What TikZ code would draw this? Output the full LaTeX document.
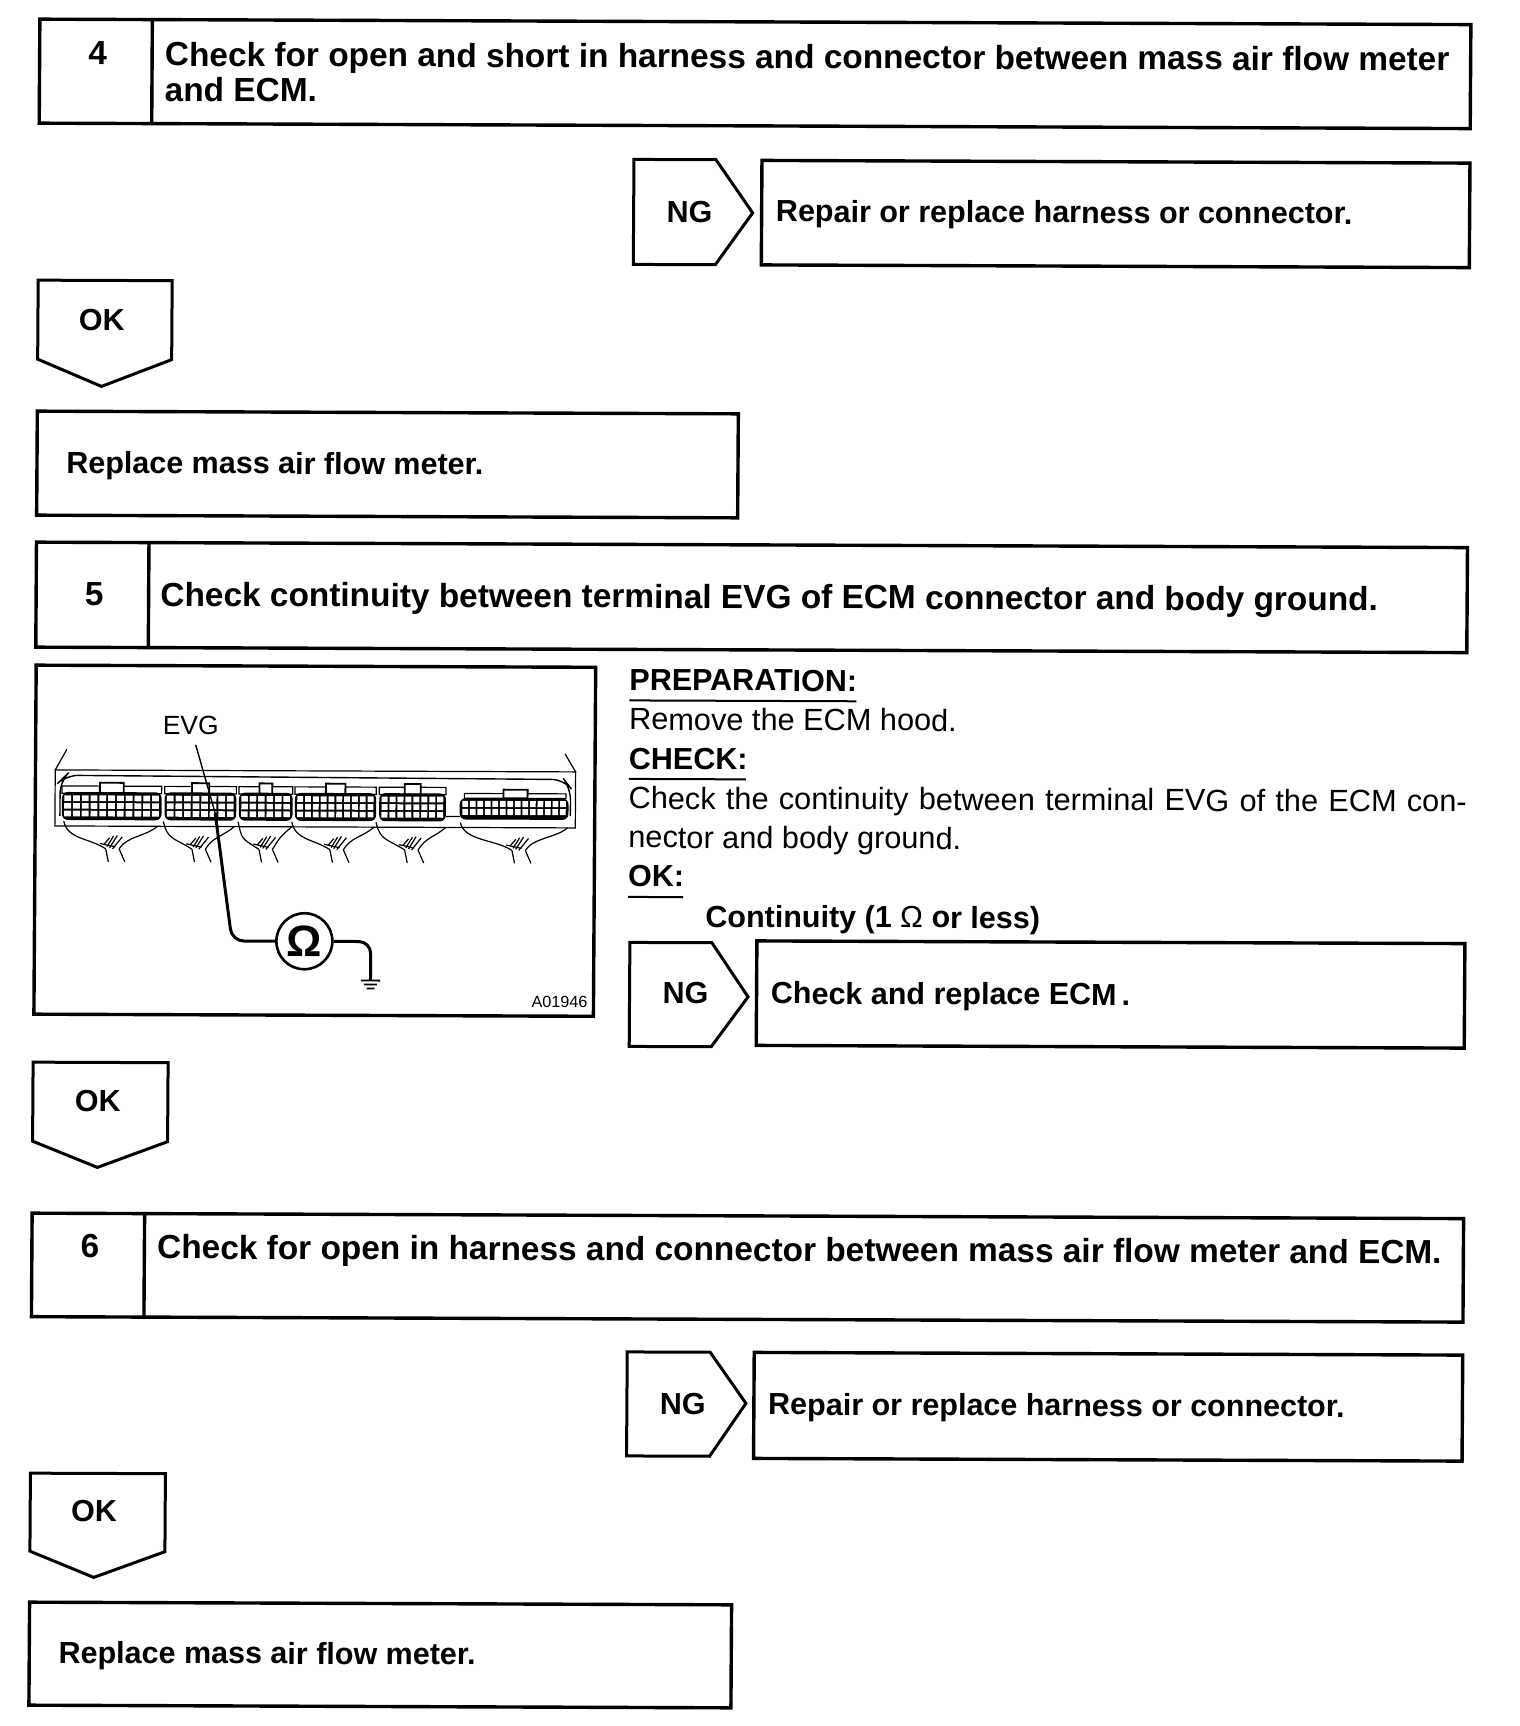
\documentclass[tikz,border=0pt]{standalone}
\usepackage{fontspec}
\setmainfont{Liberation Sans}
\tikzset{
  chkbox/.style={line width=1.7pt},
  tagline/.style={line width=1.5pt, line join=miter},
  headtxt/.style={font=\fontsize{16.7}{17.6}\selectfont\bfseries, inner sep=0pt},
  boldtxt/.style={font=\fontsize{15.25}{17}\selectfont\bfseries, inner sep=0pt},
  plaintxt/.style={font=\fontsize{15.35}{17}\selectfont, inner sep=0pt},
  headrule/.style={line width=1pt},
  wire/.style={line width=0.6pt},
  leadline/.style={line width=1.5pt, rounded corners=6pt}
}
\begin{document}
\begin{tikzpicture}[x=0.5pt, y=-0.5pt]
    \useasboundingbox (0,0) rectangle (1520,1726);
    \begin{scope}[cm={1,-0.0038,0.0065,1,(0,0)}, transform shape]
    % Step 4
    \draw[chkbox] (40,19) rectangle (1471,123);
    \draw[chkbox] (152.5,19) -- (152.5,123);
    \node[headtxt] (num4) at (98,53) {4};
    \node[headtxt, anchor=west, align=left] (txt4) at (165,71) {Check for open and short in harness and connector between mass air flow meter\\and ECM.};

    \draw[tagline] (635,157) -- (717,157) -- (754,210) -- (717,262) -- (635,262) -- cycle;
    \node[boldtxt] (ng4) at (691,209) {NG};
    \draw[chkbox] (763,157.5) rectangle (1471,262);
    \node[boldtxt, anchor=west] (rep4) at (777,211) {Repair or replace harness or connector.};

    \draw[tagline] (40,280) -- (174,280) -- (174,359) -- (104,386) -- (40,359) -- cycle;
    \node[boldtxt] (ok4) at (104,320) {OK};
    \draw[chkbox] (40,411) rectangle (741,515);
    \node[boldtxt, anchor=west] (maf4) at (69,465) {Replace mass air flow meter.};

    % Step 5
    \draw[chkbox] (40,542) rectangle (1471,647);
    \draw[chkbox] (152.5,542) -- (152.5,647);
    \node[headtxt] (num5) at (98,593.5) {5};
    \node[headtxt, anchor=west] (txt5) at (164,597) {Check continuity between terminal EVG of ECM connector and body ground.};

    % Picture of the ECM connectors
    \draw[chkbox] (40.5,665) rectangle (600,1014);
    \begin{scope}[shift={(25,649)}, x=0.1916pt, y=-0.1667pt]
      \draw[wire] (92,362) rectangle (1450,530);
      \draw[wire] (122,300) -- (92,362);
      \draw[wire] (1422,308) -- (1450,362);
      \draw[line width=0.7pt, rounded corners=6pt] (105,500) -- (105,395) -- (120,378) -- (1420,385) -- (1437,410) -- (1437,495);
      \draw[wire] (1112,497) -- (1150,497);
      % blocks with three rows of pins
      \foreach \xa/\xb/\cols in {110/370/11, 378/565/8, 572/712/6, 718/930/10, 938/1112/8}{
        \draw[wire] (\xa,410) rectangle (\xb,432);
        \draw[line width=0.9pt, fill=white] ({\xa+(\xb-\xa)*0.38},400) rectangle ({\xa+(\xb-\xa)*0.62},432);
        \fill[black, rounded corners=3pt] (\xa,428) rectangle (\xb,512);
        \foreach \c in {1,...,\cols}{
          \foreach \r in {0,1,2}{
            \fill[white] ({\xa+6+(\c-1)*(\xb-\xa-8)/\cols},{438+\r*23}) rectangle ++({(\xb-\xa-8)/\cols-5},17);
          }
        }
      }
      \draw[wire] (1160,428) rectangle (1425,442);
      \draw[line width=0.9pt, fill=white] (1262,416) rectangle (1325,442);
      \fill[black, rounded corners=3pt] (1148,442) rectangle (1432,506);
      \foreach \c in {1,...,14}{
        \foreach \r in {0,1}{
          \fill[white] ({1155+(\c-1)*19.6},{450+\r*24}) rectangle ++(15,18);
        }
      }
      % wire bundles
      \foreach \xa/\xc/\xb in {115/240/360, 375/465/560, 570/640/710, 710/825/925, 930/1020/1112, 1150/1300/1430}{
        \draw[wire] (\xa,515) .. controls (\xa+10,570) and (\xc-60,565) .. (\xc-15,598);
        \draw[wire] (\xb,530) .. controls (\xb-30,560) and (\xc+40,560) .. (\xc+20,598);
        \draw[wire] (\xc-20,585) -- (\xc-5,565);
        \draw[wire] (\xc-12,592) -- (\xc+5,560);
        \draw[wire] (\xc-5,595) -- (\xc+15,558);
        \draw[wire] (\xc+3,598) -- (\xc+28,562);
        \draw[wire] (\xc-30,582) -- (\xc+10,592);
        \draw[wire] (\xc-15,598) -- (\xc-8,637);
        \draw[wire] (\xc+20,598) -- (\xc+35,637);
      }
      \node[plaintxt, font=\fontsize{13.2}{15}\selectfont] (evg) at (445,226) {EVG};
      \coordinate (evgtip) at (458,285);
      \coordinate (evgmid) at (510,490);
      \coordinate (evgbend) at (556,873);
      \node[circle, draw, line width=1.3pt, fill=white, minimum size=28pt, inner sep=0pt, font=\fontsize{22}{22}\selectfont\bfseries] (meter) at (745,873) {Ω};
      \coordinate (gndbend) at (918,873);
      \coordinate (gnd) at (918,990);
      \draw[line width=0.7pt] (evgtip) -- (evgmid);
      \draw[leadline] (evgmid) -- (evgbend) -- (meter.west);
      \draw[leadline] (meter.east) -- (gndbend) -- (gnd);
      \coordinate (gnda) at (893,990);
      \coordinate (gndb) at (943,990);
      \coordinate (gndc) at (901,1002);
      \coordinate (gndd) at (935,1002);
      \coordinate (gnde) at (908,1014);
      \coordinate (gndf) at (928,1014);
      \draw[line width=0.9pt] (gnda) -- (gndb);
      \draw[line width=0.9pt] (gndc) -- (gndd);
      \draw[line width=0.9pt] (gnde) -- (gndf);
      \node[plaintxt, font=\fontsize{8.1}{10}\selectfont] (code) at (1412,1053) {A01946};
    \end{scope}

    % Preparation and check text
    \node[boldtxt, anchor=west] (prep) at (633.5,677.5) {PREPARATION:};
    \draw[headrule] (634,698) -- (861,698);
    \node[plaintxt, anchor=west] (hood) at (633.5,716.5) {Remove the ECM hood.};
    \node[boldtxt, anchor=west] (check) at (633.5,756.5) {CHECK:};
    \draw[headrule] (634,776.5) -- (751,776.5);
    \node[plaintxt, anchor=west] (conta) at (633.5,798.5) {\makebox[419pt][s]{Check the continuity between terminal EVG of the ECM con-}};
    \node[plaintxt, anchor=west] (contb) at (633.5,837.5) {nector and body ground.};
    \node[boldtxt, anchor=west] (okhead) at (633.5,873.5) {OK:};
    \draw[headrule] (634,894.5) -- (689,894.5);
    \node[boldtxt, anchor=west] (contc) at (711,916.5) {Continuity (1 {\mdseries Ω} or less)};

    \draw[tagline] (636,940) -- (718,940) -- (754.5,994) -- (718,1044) -- (636,1044) -- cycle;
    \node[boldtxt] (ng5) at (692,990) {NG};
    \draw[chkbox] (763,938) rectangle (1471,1042.5);
    \node[boldtxt, anchor=west] (rep5) at (777,993) {Check and replace ECM\,.};

    \draw[tagline] (40,1062) -- (175,1062) -- (175,1141) -- (105,1167) -- (40,1141) -- cycle;
    \node[boldtxt] (ok5) at (105,1100.5) {OK};

    % Step 6
    \draw[chkbox] (40,1213) rectangle (1471.5,1316.5);
    \draw[chkbox] (152.5,1213) -- (152.5,1316.5);
    \node[headtxt] (num6) at (98,1246) {6};
    \node[headtxt, anchor=west] (txt6) at (165,1249.5) {Check for open in harness and connector between mass air flow meter and ECM.};

    \draw[tagline] (636,1349.5) -- (719,1349.5) -- (755,1400.5) -- (719,1453.5) -- (636,1453.5) -- cycle;
    \node[boldtxt] (ng6) at (692,1401.5) {NG};
    \draw[chkbox] (763,1349.5) rectangle (1471.5,1455.5);
    \node[boldtxt, anchor=west] (rep6) at (777,1404) {Repair or replace harness or connector.};

    \draw[tagline] (40,1473) -- (175,1473) -- (175,1551) -- (104,1577) -- (40,1551) -- cycle;
    \node[boldtxt] (ok6) at (104,1511) {OK};
    \draw[chkbox] (40,1602) rectangle (742,1705);
    \node[boldtxt, anchor=west] (maf6) at (69,1655) {Replace mass air flow meter.};
    \end{scope}
\end{tikzpicture}
\end{document}
